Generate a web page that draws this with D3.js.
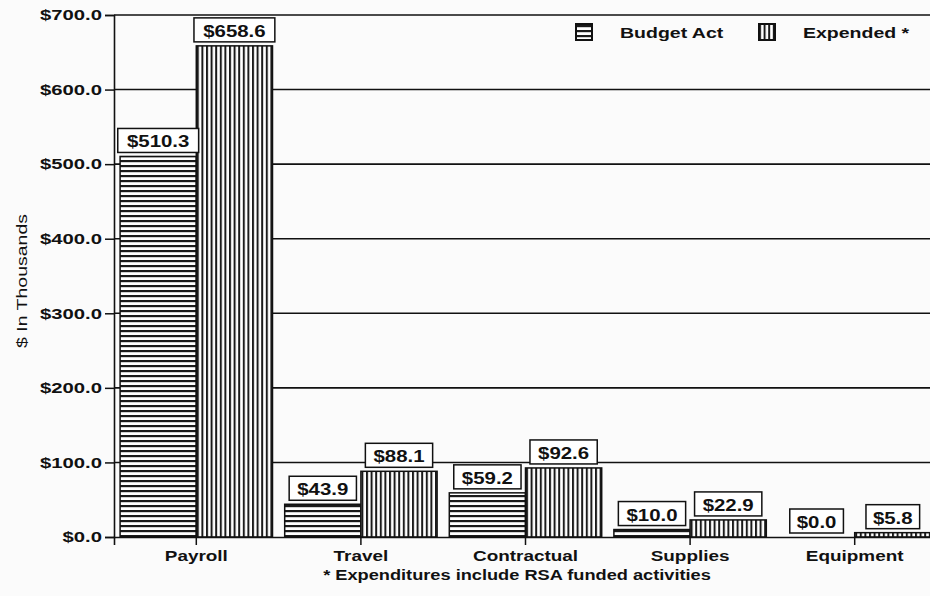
<!DOCTYPE html>
<html>
<head>
<meta charset="utf-8">
<script src="https://cdn.jsdelivr.net/npm/d3@7"></script>
<style>
  body { margin: 0; background: #fbfbfb; }
  text { font-family: "Liberation Sans", Arial, sans-serif; font-weight: bold; fill: #111; }
</style>
</head>
<body>
<svg width="930" height="596"></svg>
<script>
var categories = ["Payroll", "Travel", "Contractual", "Supplies", "Equipment"];
var seriesNames = ["Budget Act", "Expended *"];
var budgetAct = [510.3, 43.9, 59.2, 10.0, 0.0];
var expended = [658.6, 88.1, 92.6, 22.9, 5.8];
var yTicks = [0, 100, 200, 300, 400, 500, 600, 700];
var yTitle = "$ In Thousands";
var footnote = "* Expenditures include RSA funded activities";

var svg = d3.select("svg"),
  margin = { top: 15, right: 0, bottom: 59, left: 114 },
  width = +svg.attr("width") - margin.left - margin.right,
  height = +svg.attr("height") - margin.top - margin.bottom;

// scanned type is wider than the font, stretch it a bit
function stretch(sel, k) {
  sel.each(function() {
    var w = this.getComputedTextLength();
    d3.select(this).attr("textLength", w * k).attr("lengthAdjust", "spacingAndGlyphs");
  });
}

var defs = svg.append("defs");
var hp = defs.append("pattern").attr("id", "hstripe")
  .attr("patternUnits", "userSpaceOnUse").attr("width", 6).attr("height", 5);
hp.append("rect").attr("width", 6).attr("height", 5).attr("fill", "#fff");
hp.append("rect").attr("y", 0).attr("width", 6).attr("height", 2.2).attr("fill", "#1a1a1a");
var vp = defs.append("pattern").attr("id", "vstripe")
  .attr("patternUnits", "userSpaceOnUse").attr("width", 4.6).attr("height", 6);
vp.append("rect").attr("width", 4.6).attr("height", 6).attr("fill", "#fff");
vp.append("rect").attr("x", 0).attr("width", 2).attr("height", 6).attr("fill", "#1a1a1a");
var fills = ["url(#hstripe)", "url(#vstripe)"];

var x0 = d3.scaleBand().domain(categories).range([0, 823]).padding(0);
var x1 = d3.scaleBand().domain(seriesNames).range([0, x0.bandwidth()])
  .paddingInner(0).paddingOuter(0.08);
var y = d3.scaleLinear().domain([0, 700]).range([height, 0]);

var g = svg.append("g").attr("transform", "translate(" + margin.left + "," + margin.top + ")");

// gridlines
g.selectAll(".grid").data(yTicks.slice(1)).enter().append("line")
  .attr("x1", 0).attr("x2", width)
  .attr("y1", function(d) { return y(d); }).attr("y2", function(d) { return y(d); })
  .attr("stroke", "#111").attr("stroke-width", 1.6);

var rows = categories.map(function(c, i) {
  return { cat: c, values: [budgetAct[i], expended[i]] };
});

var groups = g.selectAll(".grp").data(rows).enter().append("g")
  .attr("transform", function(d) { return "translate(" + x0(d.cat) + ",0)"; });

groups.selectAll("rect").data(function(d) {
  return d.values.map(function(v, j) { return { s: seriesNames[j], v: v, j: j }; });
}).enter().append("rect")
  .attr("x", function(d) { return x1(d.s); })
  .attr("y", function(d) { return y(d.v); })
  .attr("width", x1.bandwidth())
  .attr("height", function(d) { return height - y(d.v); })
  .attr("fill", function(d) { return fills[d.j]; })
  .attr("stroke", "#111").attr("stroke-width", 1.5);

// value boxes
groups.each(function(d) {
  var grp = d3.select(this);
  d.values.forEach(function(v, j) {
    var cx = x1(seriesNames[j]) + x1.bandwidth() / 2;
    var bottom = y(v) - 4;
    var lab = grp.append("g");
    var t = lab.append("text").attr("x", cx).attr("y", bottom - 5)
      .attr("text-anchor", "middle").style("font-size", "17px")
      .text("$" + v.toFixed(1));
    stretch(t, 1.2);
    var w = t.node().getComputedTextLength() * 1.2 + 6;
    lab.insert("rect", "text")
      .attr("x", cx - w / 2).attr("y", bottom - 24)
      .attr("width", w).attr("height", 24)
      .attr("fill", "#fff").attr("stroke", "#111").attr("stroke-width", 1.5);
  });
});

// y axis
var yAxis = g.append("g").call(d3.axisLeft(y).tickValues(yTicks)
  .tickFormat(function(d) { return "$" + d.toFixed(1); }).tickSize(9).tickPadding(3));
yAxis.select(".domain").attr("stroke", "#111").attr("stroke-width", 1.6);
yAxis.selectAll(".tick line").attr("stroke", "#111").attr("stroke-width", 1.5);
yAxis.selectAll(".tick text").style("font-size", "15px").style("font-family", null)
  .attr("fill", "#111").call(stretch, 1.35);

// x axis
var xAxis = g.append("g").attr("transform", "translate(0," + height + ")")
  .call(d3.axisBottom(x0).tickSize(8).tickPadding(6));
xAxis.select(".domain").attr("stroke", "#111").attr("stroke-width", 1.6);
xAxis.selectAll(".tick line").attr("stroke", "#111").attr("stroke-width", 1.5);
xAxis.selectAll(".tick text").style("font-size", "14px").style("font-family", null)
  .attr("fill", "#111").call(stretch, 1.35);

// y title
svg.append("text")
  .attr("transform", "translate(27,281) rotate(-90)")
  .attr("text-anchor", "middle").style("font-size", "15px").style("font-weight", "normal")
  .text(yTitle).call(stretch, 1.3);

// footnote
svg.append("text").attr("x", 517).attr("y", 580).attr("text-anchor", "middle")
  .style("font-size", "14px").text(footnote).call(stretch, 1.3);

// legend
var legend = svg.append("g");
var legX = [576, 759], legTextX = [620, 803];
seriesNames.forEach(function(s, j) {
  legend.append("rect").attr("x", legX[j]).attr("y", 24).attr("width", 16).attr("height", 16)
    .attr("fill", fills[j]).attr("stroke", "#111").attr("stroke-width", 2);
  legend.append("text").attr("x", legTextX[j]).attr("y", 38)
    .style("font-size", "15px").text(s).call(stretch, 1.3);
});
</script>
</body>
</html>
